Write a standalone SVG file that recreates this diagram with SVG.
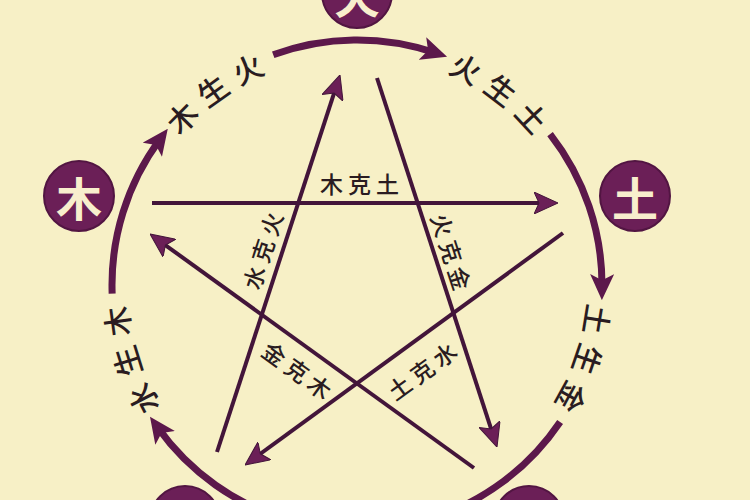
<svg xmlns="http://www.w3.org/2000/svg" width="750" height="500" viewBox="0 0 750 500">
  <style>
    .bg { fill: #f7f0c6; }
    .node circle { fill: #6b1f57; stroke: #521542; stroke-width: 2; }
    .node text { fill: #f8eecd; font-family: "Noto Sans CJK SC", "Noto Sans CJK TC", sans-serif; font-size: 46px; font-weight: 700; text-anchor: middle; dominant-baseline: central; }
    .arc { fill: none; stroke: #5c184b; stroke-width: 7; stroke-linecap: butt; }
    .ke { fill: none; stroke: #43153a; stroke-width: 4; }
    .sheng { fill: #2a1c21; font-family: "Noto Sans CJK SC", "Noto Sans CJK TC", sans-serif; font-size: 30px; font-weight: 500; letter-spacing: 9px; }
    .kel { fill: #2a1c21; font-family: "Noto Sans CJK SC", "Noto Sans CJK TC", sans-serif; font-size: 23px; font-weight: 500; letter-spacing: 5px; text-anchor: middle; dominant-baseline: central; }
  </style>
  <defs>
    <marker id="arcHead" markerUnits="userSpaceOnUse" viewBox="0 0 26 24" markerWidth="26" markerHeight="24" refX="13" refY="12" orient="auto">
      <path d="M0,0 L26,12 L0,24 L6,12 Z" fill="#5c184b"/>
    </marker>
    <marker id="lineHead" markerUnits="userSpaceOnUse" viewBox="0 0 24 22" markerWidth="24" markerHeight="22" refX="12" refY="11" orient="auto">
      <path d="M0,0 L24,11 L0,22 L5,11 Z" fill="#6b1f57" stroke="#43153a" stroke-width="1"/>
    </marker>
    <path id="tp-muhuo" d="M147.24,189.41 A230.5,230.5 0 0 1 334.91,55.56"/>
    <path id="tp-huotu" d="M387.09,56.47 A230.5,230.5 0 0 1 569.95,196.79"/>
    <path id="tp-tujin" d="M583.27,241.02 A230.5,230.5 0 0 1 508.22,458.96"/>
    <path id="tp-shuimu" d="M200.64,454.36 A230.5,230.5 0 0 1 132.14,234.32"/>
  </defs>

  <rect class="bg" x="0" y="0" width="750" height="500"/>

  <g id="connectors">
    <!-- generating cycle arcs -->
    <path class="arc" marker-end="url(#arcHead)" d="M112.15,293.55 A245,245 0 0 1 160.05,139.27"/>
    <path class="arc" marker-end="url(#arcHead)" d="M273.21,54.78 A245,245 0 0 1 434.74,52.66"/>
    <path class="arc" marker-end="url(#arcHead)" d="M550.06,134.16 A245,245 0 0 1 601.99,287.14"/>
    <path class="arc" marker-end="url(#arcHead)" d="M560.11,422.0 A245,245 0 0 1 430.67,518.66"/>
    <path class="arc" marker-end="url(#arcHead)" d="M289.47,520.51 A245,245 0 0 1 157.54,427.27"/>
    <!-- controlling star lines -->
    <line class="ke" marker-end="url(#lineHead)" x1="152" y1="203" x2="546" y2="203"/>
    <line class="ke" marker-end="url(#lineHead)" x1="377" y1="78" x2="493.29" y2="435.59"/>
    <line class="ke" marker-end="url(#lineHead)" x1="563" y1="233" x2="254.69" y2="457.93"/>
    <line class="ke" marker-end="url(#lineHead)" x1="217" y1="452" x2="336.28" y2="86.41"/>
    <line class="ke" marker-end="url(#lineHead)" x1="474" y1="468" x2="159.73" y2="241.03"/>
  </g>

  <g id="labels">
    <text class="sheng"><textPath href="#tp-muhuo" startOffset="50%" text-anchor="middle">木生火</textPath></text>
    <text class="sheng"><textPath href="#tp-huotu" startOffset="50%" text-anchor="middle">火生土</textPath></text>
    <text class="sheng"><textPath href="#tp-tujin" startOffset="50%" text-anchor="middle">土生金</textPath></text>
    <text class="sheng"><textPath href="#tp-shuimu" startOffset="50%" text-anchor="middle">水生木</textPath></text>

    <text class="kel" transform="translate(362,183)">木克土</text>
    <text class="kel" transform="translate(262,250) rotate(-72) translate(2,0)">水克火</text>
    <text class="kel" transform="translate(452,252) rotate(72) translate(2,0)">火克金</text>
    <text class="kel" transform="translate(422,370) rotate(-36) translate(2,0)">土克水</text>
    <text class="kel" transform="translate(298,370) rotate(36) translate(2,0)">金克木</text>
  </g>

  <g id="node-huo" class="node">
    <circle cx="357" cy="-7" r="35"/>
    <text x="357" y="-7">火</text>
  </g>
  <g id="node-mu" class="node">
    <circle cx="79" cy="196" r="35"/>
    <text x="79" y="196">木</text>
  </g>
  <g id="node-tu" class="node">
    <circle cx="635" cy="196" r="35"/>
    <text x="635" y="196">土</text>
  </g>
  <g id="node-jin" class="node">
    <circle cx="529" cy="521" r="35"/>
    <text x="529" y="521">金</text>
  </g>
  <g id="node-shui" class="node">
    <circle cx="185" cy="521" r="35"/>
    <text x="185" y="521">水</text>
  </g>
</svg>
